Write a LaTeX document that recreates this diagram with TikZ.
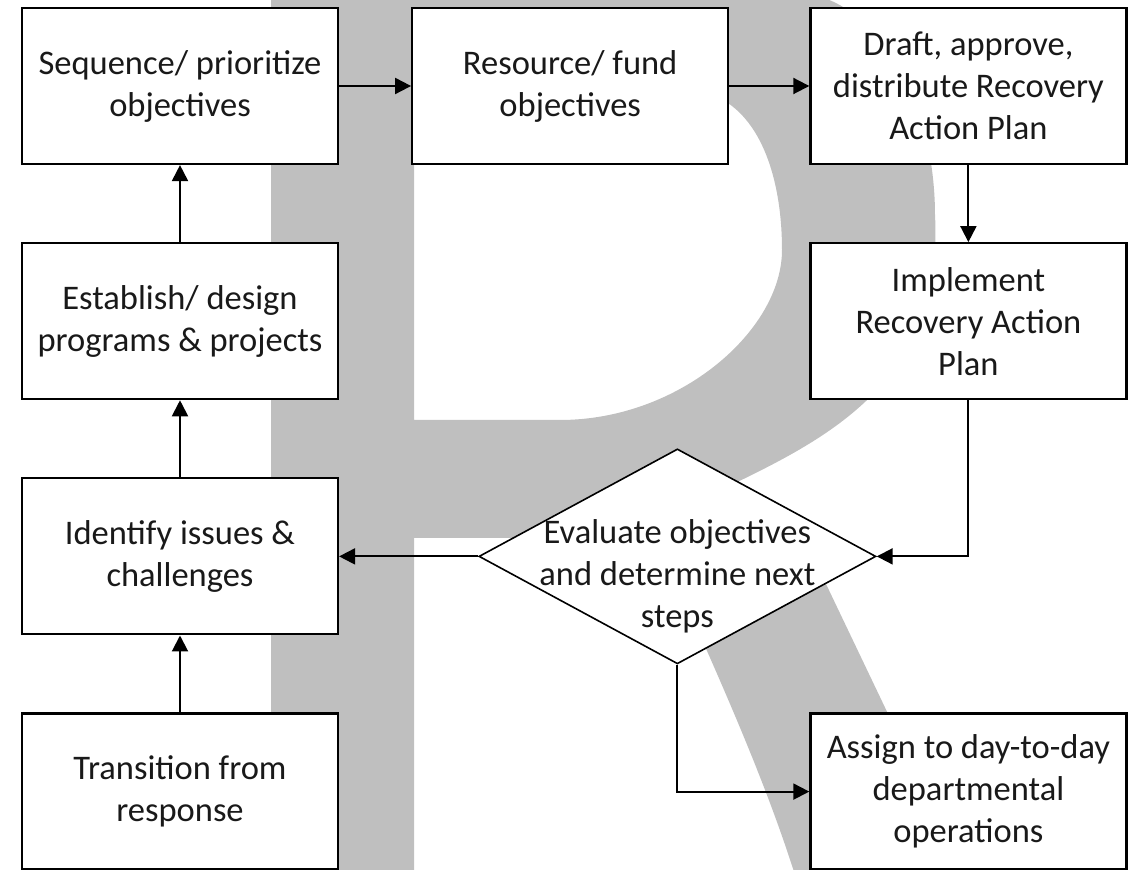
\documentclass[tikz,border=0pt]{standalone}
\usepackage{fontspec}
\setmainfont{Carlito}
\usepackage{xcolor}
\usetikzlibrary{shapes.geometric, arrows.meta, positioning}
\definecolor{lettergray}{RGB}{191,191,191}
\newcommand{\boxfont}{\fontsize{17.25}{21}\selectfont}
\tikzset{
    process/.style={
        rectangle,
        draw=black,
        line width=1.1pt,
        minimum width=158pt,
        minimum height=78pt,
        inner sep=2pt,
        fill=white,
        text=black!90,
        align=center
    },
    decision/.style={
        diamond,
        draw=black,
        line width=0.8pt,
        minimum width=198.5pt,
        minimum height=107.5pt,
        inner sep=0pt,
        fill=white
    },
    flow/.style={
        draw=black,
        line width=1pt,
        -{Triangle[length=8pt,width=8pt]}
    },
    watermark/.style={
        fill=lettergray,
        even odd rule
    }
}

\begin{document}
\begin{tikzpicture}[x=0.5pt, y=-0.5pt, font=\boxfont]
\useasboundingbox (0,0) rectangle (1132,870);

% Background letter
\begin{scope}
\clip (0,0) rectangle (1132,870);
\fill[watermark] (271,875) -- (271,-10) -- (780,-10)
    .. controls (885,-10) and (935,110) .. (935,215)
    .. controls (945,400) and (800,450) .. (690,505)
    -- (805,540) -- (965,875) -- (795,875)
    .. controls (765,780) and (720,680) .. (680,590)
    -- (600,538) -- (414,538) -- (414,875) -- cycle
    (414,90) -- (690,90)
    .. controls (755,95) and (782,170) .. (782,250)
    .. controls (782,330) and (680,420) .. (560,420)
    -- (414,420) -- cycle;
\end{scope}

% Top row
\node[process] (seq) at (180,86) {Sequence/ prioritize\\objectives};
\node[process, right=36pt of seq] (res) {Resource/ fund\\objectives};
\node[process, right=40pt of res] (draft) {Draft, approve,\\distribute Recovery\\Action Plan};

% Left column
\node[process, below=38.5pt of seq] (estab) {Establish/ design\\programs \& projects};
\node[process, below=38.5pt of estab] (ident) {Identify issues \&\\challenges};
\node[process, below=38.5pt of ident] (trans) {Transition from\\response};

% Right column
\node[process, below=38.5pt of draft] (impl) {Implement\\Recovery Action\\Plan};
\node[process] (assign) at (draft |- trans) {Assign to day-to-day\\departmental\\operations};

% Decision
\node[decision, right=69.5pt of ident,
      label={[name=evaltext, align=center, text=black!90, yshift=-10pt]center:{Evaluate objectives\\and determine next\\steps}}] (eval) {};

% Flow
\draw[flow] (trans) -- (ident);
\draw[flow] (ident) -- (estab);
\draw[flow] (estab) -- (seq);
\draw[flow] (seq) -- (res);
\draw[flow] (res) -- (draft);
\draw[flow] (draft) -- (impl);
\draw[flow] (impl.south) |- (eval.east);
\draw[flow] (eval) -- (ident);
\draw[flow] (eval.south) |- (assign.west);

\end{tikzpicture}
\end{document}
